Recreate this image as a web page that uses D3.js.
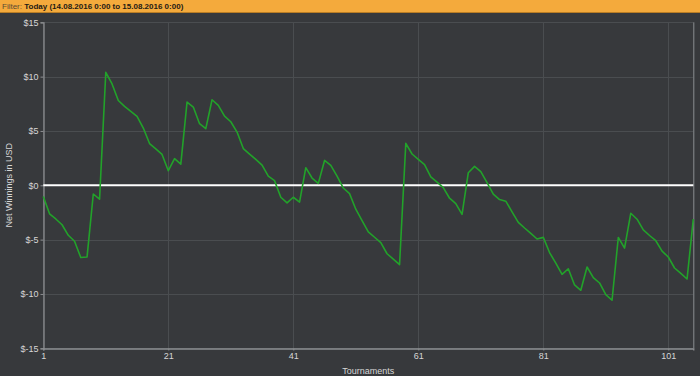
<!DOCTYPE html>
<html>
<head>
<meta charset="utf-8">
<script src="https://cdn.jsdelivr.net/npm/d3@7"></script>
<style>
  html, body { margin: 0; padding: 0; background: #37393c; }
  svg { display: block; }
</style>
</head>
<body>
<svg id="chart" width="700" height="376"></svg>
<script>
const filterLabel = "Filter: ";
const filterValue = "Today (14.08.2016 0:00 to 15.08.2016 0:00)";
const xTitle = "Tournaments";
const yTitle = "Net Winnings in USD";
const xTickValues = [1, 21, 41, 61, 81, 101];
const yTickValues = [-15, -10, -5, 0, 5, 10, 15];
const netWinnings = [
  -1.04, -2.62, -3.1, -3.63, -4.6, -5.15, -6.65, -6.6, -0.8, -1.28,
  10.4, 9.33, 7.8, 7.26, 6.8, 6.34, 5.27, 3.84, 3.35, 2.84,
  1.34, 2.45, 1.95, 7.65, 7.2, 5.67, 5.21, 7.87, 7.35, 6.37,
  5.85, 4.9, 3.38, 2.87, 2.38, 1.86, 0.85, 0.43, -1.1, -1.62,
  -1.1, -1.54, 1.62, 0.67, 0.18, 2.29, 1.83, 0.85, -0.25, -0.77,
  -2.2, -3.25, -4.29, -4.78, -5.27, -6.3, -6.8, -7.3, 3.86, 2.88,
  2.39, 1.9, 0.78, 0.3, -0.21, -1.19, -1.68, -2.68, 1.16, 1.74,
  1.25, 0.24, -0.82, -1.31, -1.46, -2.44, -3.41, -3.93, -4.42, -4.94,
  -4.79, -6.19, -7.16, -8.2, -7.68, -9.17, -9.66, -7.52, -8.5, -8.99,
  -10.06, -10.58, -4.8, -5.78, -2.57, -3.12, -4.1, -4.62, -5.1, -6.06,
  -6.6, -7.61, -8.1, -8.62, -3.12
];
const tournaments = netWinnings.map((_, i) => i + 1);

const svg = d3.select("#chart");
const W = 700, H = 376;
const m = { left: 43.3, right: 6.7, top: 22.3, bottom: 27.7 };

const x = d3.scaleLinear().domain([1, 105]).range([m.left, W - m.right]);
const y = d3.scaleLinear().domain([-15, 15]).range([H - m.bottom, m.top]);

// background
svg.append("rect").attr("width", W).attr("height", H).attr("fill", "#37393c");

// filter bar
svg.append("rect").attr("x", 0).attr("y", 0).attr("width", W).attr("height", 12).attr("fill", "#f4aa3c");
svg.append("line").attr("x1", 0).attr("x2", W).attr("y1", 12.5).attr("y2", 12.5).attr("stroke", "#b97d25");
const ft = svg.append("text").attr("x", 2).attr("y", 9)
  .attr("font-family", "Liberation Sans, Arial, sans-serif").attr("font-size", 8);
ft.append("tspan").attr("fill", "#5a4a33").text(filterLabel);
ft.append("tspan").attr("fill", "#1e1a14").attr("font-weight", "bold").text(filterValue);

// grid
const grid = svg.append("g");
grid.selectAll("line.h").data(yTickValues).join("line")
  .attr("x1", m.left).attr("x2", W - m.right)
  .attr("y1", d => Math.round(y(d)) + 0.5).attr("y2", d => Math.round(y(d)) + 0.5)
  .attr("stroke", "#4a4d50").attr("stroke-width", 1);
grid.selectAll("line.v").data(xTickValues).join("line")
  .attr("y1", m.top).attr("y2", H - m.bottom)
  .attr("x1", d => Math.round(x(d)) + 0.5).attr("x2", d => Math.round(x(d)) + 0.5)
  .attr("stroke", "#4a4d50").attr("stroke-width", 1);

// right border
svg.append("line").attr("x1", W - m.right + 0.5).attr("x2", W - m.right + 0.5)
  .attr("y1", m.top).attr("y2", H - m.bottom).attr("stroke", "#8b8d90");

// axes
const yAxis = d3.axisLeft(y).tickValues(yTickValues).tickFormat(d => "$" + d).tickSize(3).tickPadding(2);
const xAxis = d3.axisBottom(x).tickValues(xTickValues).tickFormat(d3.format("d")).tickSize(2).tickPadding(2);

const gy = svg.append("g").attr("transform", `translate(${Math.round(m.left) + 0.5},0)`).call(yAxis);
const gx = svg.append("g").attr("transform", `translate(0,${Math.round(H - m.bottom) + 0.5})`).call(xAxis);
[gx, gy].forEach(g => {
  g.selectAll("path.domain").attr("stroke", "#8b8d90").attr("stroke-width", 1.3);
  g.selectAll(".tick line").attr("stroke", "#8b8d90");
  g.selectAll("text").attr("fill", "#d6d6d6")
    .attr("font-family", "Liberation Sans, Arial, sans-serif").attr("font-size", 9);
});

// zero line
svg.append("line").attr("x1", m.left).attr("x2", W - m.right)
  .attr("y1", y(0)).attr("y2", y(0)).attr("stroke", "#ffffff").attr("stroke-width", 2);

// series line
const line = d3.line().x((d, i) => x(tournaments[i])).y(d => y(d));
svg.append("path").datum(netWinnings).attr("d", line)
  .attr("fill", "none").attr("stroke", "#22a22a").attr("stroke-width", 1.6)
  .attr("stroke-linejoin", "round");

// titles
svg.append("text").attr("x", (m.left + W - m.right) / 2).attr("y", 374)
  .attr("text-anchor", "middle").attr("fill", "#d6d6d6")
  .attr("font-family", "Liberation Sans, Arial, sans-serif").attr("font-size", 9).text(xTitle);
svg.append("text").attr("transform", `translate(12,${y(0)}) rotate(-90)`)
  .attr("text-anchor", "middle").attr("fill", "#d6d6d6")
  .attr("font-family", "Liberation Sans, Arial, sans-serif").attr("font-size", 9).text(yTitle);
</script>
</body>
</html>
